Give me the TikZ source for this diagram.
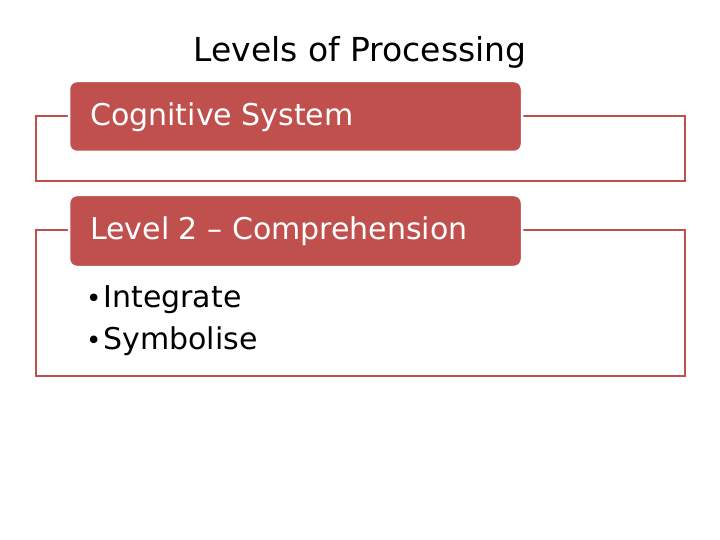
\documentclass[tikz,border=0pt]{standalone}
\usepackage{fontspec}
\setmainfont{DejaVu Sans}
\begin{document}
\begin{tikzpicture}[x=1pt,y=-1pt,
  frame/.style={draw={rgb,255:red,192;green,80;blue,77}, line width=2pt},
  head/.style={fill={rgb,255:red,192;green,80;blue,77}, draw=white, line width=2.5pt, rounded corners=8pt},
  txt/.style={anchor=west, font=\fontsize{30}{36}\selectfont, inner sep=0pt}]
\useasboundingbox (0,0) rectangle (720,540);
\node[txt, anchor=center, font=\fontsize{33}{40}\selectfont] (title) at (360,52) {Levels of Processing};
\draw[frame] (36,116) rectangle (685,181);
\draw[frame] (36,230) rectangle (685,376);
\path[head] (69,81) rectangle (522,152);
\node[txt, text=white] (h1) at (90,117) {Cognitive System};
\path[head] (69,195) rectangle (522,267);
\node[txt, text=white] (h2) at (90,231) {Level 2 – Comprehension};
\node[txt] (b1) at (86,300) {\fontsize{26}{30}\selectfont•\hspace{2pt}\fontsize{30}{36}\selectfont Integrate};
\node[txt] (b2) at (86,341) {\fontsize{26}{30}\selectfont•\hspace{2pt}\fontsize{30}{36}\selectfont Symbolise};
\end{tikzpicture}
\end{document}
